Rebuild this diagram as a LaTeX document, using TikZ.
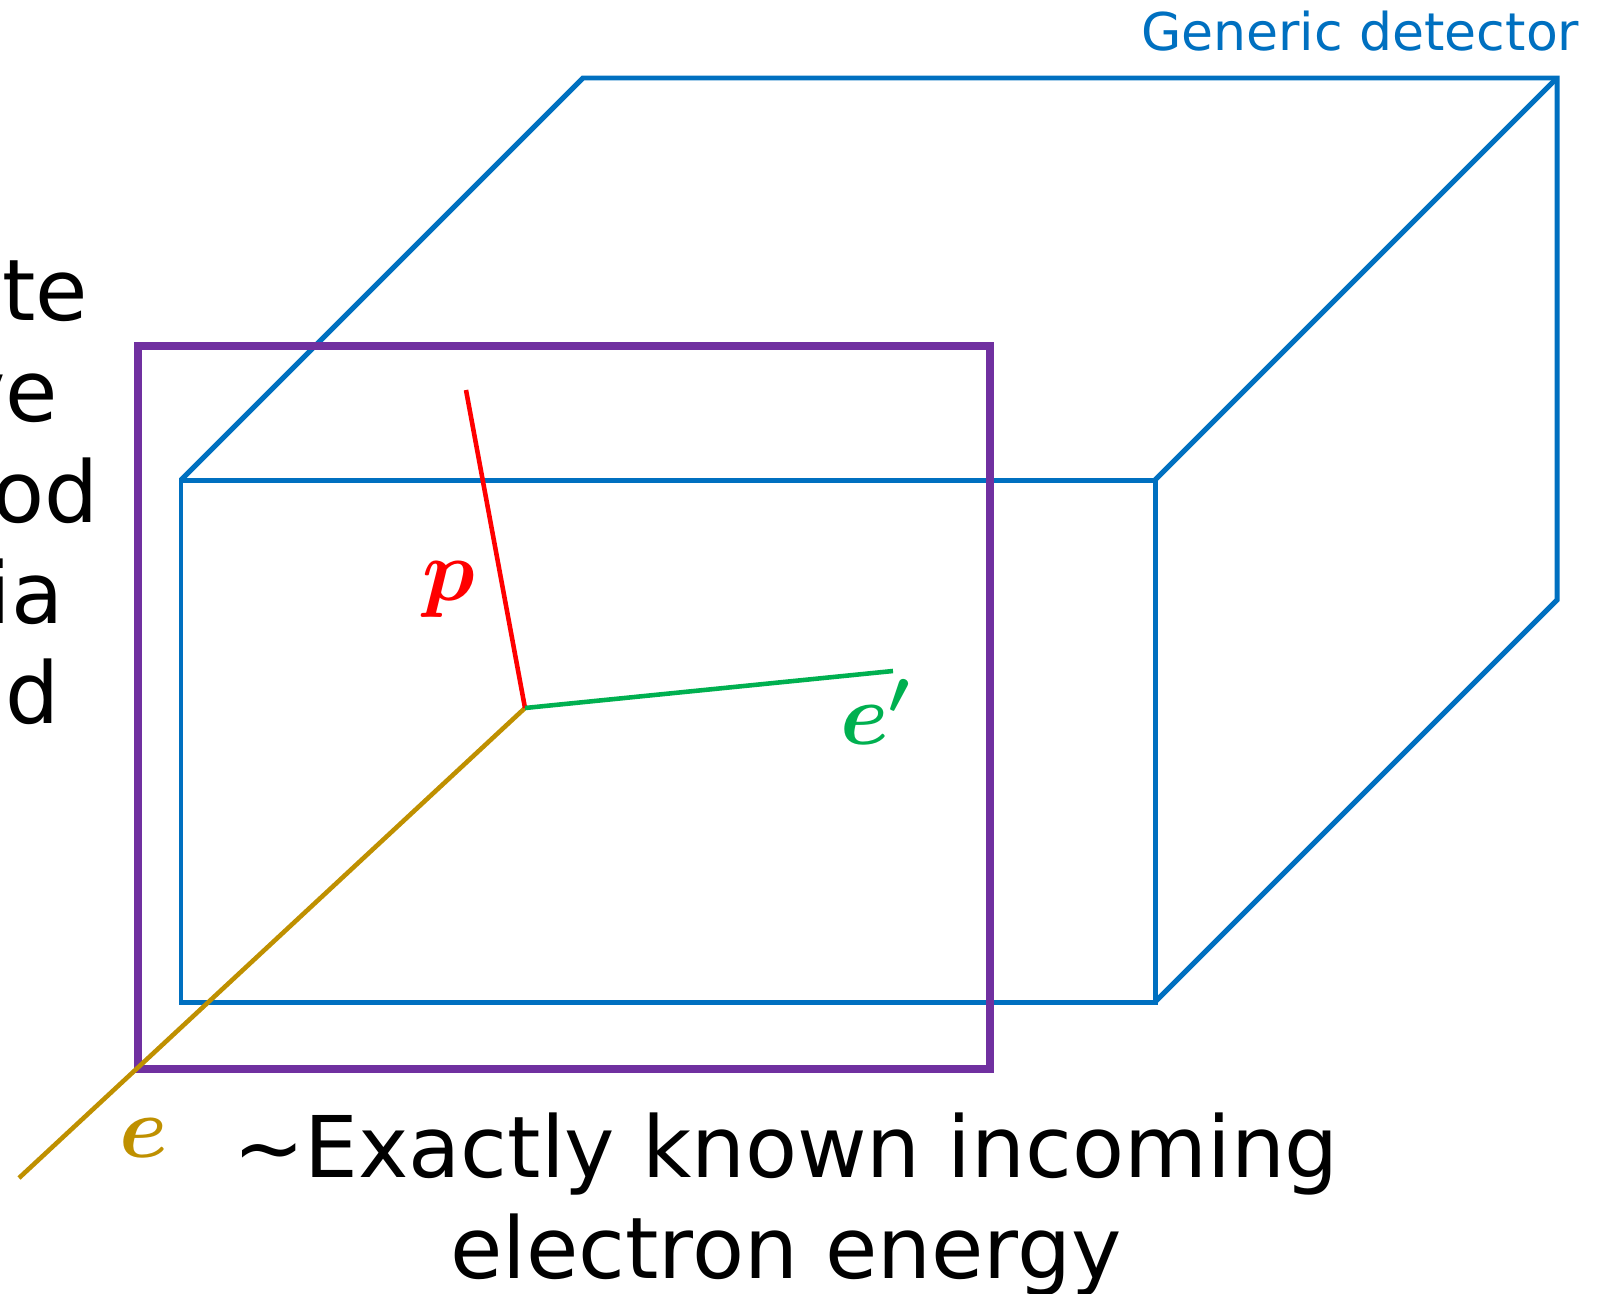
\documentclass[tikz,border=0pt]{standalone}
\usepackage{amsmath,amssymb}
\usepackage{fontspec}
\setmainfont{DejaVu Sans}
\usepackage{xcolor}
\usepackage{tikz}
\usetikzlibrary{positioning,calc}
\definecolor{detblue}{RGB}{0,112,192}
\definecolor{framepurple}{RGB}{112,48,160}
\definecolor{beamgold}{RGB}{191,144,0}
\definecolor{scatgreen}{RGB}{0,176,80}
\definecolor{protonred}{RGB}{255,0,0}
\tikzset{
  detectorline/.style={draw=detblue,line width=1.42pt,line join=miter},
  frameline/.style={draw=framepurple,line width=2.3pt,line join=miter},
  trackline/.style={line width=1.3pt},
  particlelabel/.style={font=\fontsize{26}{26}\selectfont,inner sep=0pt},
  bodytext/.style={font=\fontsize{24.2}{28.7}\selectfont,inner sep=0pt}
}

\begin{document}
\begin{tikzpicture}[x=0.01cm,y=-0.01cm]
  \useasboundingbox (0,0) rectangle (1600,1294);
  \clip (0,0) rectangle (1600,1294);
  % corners of the detector box
  \coordinate (ftl) at (181,480);
  \coordinate (ftr) at (1155,480);
  \coordinate (fbr) at (1155,1002);
  \coordinate (fbl) at (181,1002);
  \coordinate (btl) at (583,78);
  \coordinate (btr) at (1557,78);
  \coordinate (bbr) at (1557,600);
  \draw[detectorline] (ftl) rectangle (fbr);
  \draw[detectorline] (ftl) -- (btl) -- (btr) -- (bbr) -- (fbr);
  \draw[detectorline] (ftr) -- (btr);
  \node[anchor=base east,text=detblue,font=\fontsize{14.8}{18}\selectfont,inner sep=0pt]
    (detlabel) at (1580,51) {Generic detector};
  % frame of the interaction plane
  \coordinate (frtl) at (138,346);
  \coordinate (frbr) at (990,1069);
  \draw[frameline] (frtl) rectangle (frbr);
  % tracks
  \coordinate (vertex) at (525,708);
  \coordinate (beamin) at (19,1178);
  \coordinate (protonend) at (466,390);
  \coordinate (electronend) at (893,671);
  \draw[trackline,beamgold] (beamin) -- (vertex);
  \draw[trackline,protonred] (vertex) -- (protonend);
  \draw[trackline,scatgreen] (vertex) -- (electronend);
  \node[particlelabel,text=protonred] (plabel) at (449,590) {$\boldsymbol{p}$};
  \node[particlelabel,text=scatgreen] (eprimelabel) at (876,712) {$\boldsymbol{e'}$};
  \node[particlelabel,text=beamgold] (elabel) at (144,1138) {$\boldsymbol{e}$};
  % texts
  \node[bodytext,align=center,anchor=base] (energytext) at (786,1278)
    {\textasciitilde Exactly known incoming\\electron energy};
  \foreach \frag/\xr/\yb [count=\i] in {te/89/320,ve/59/421,od/99/522,ia/64/623,d/60/723}
    \node[bodytext,anchor=base east] (leftfrag\i) at (\xr,\yb) {\frag};
\end{tikzpicture}
\end{document}
